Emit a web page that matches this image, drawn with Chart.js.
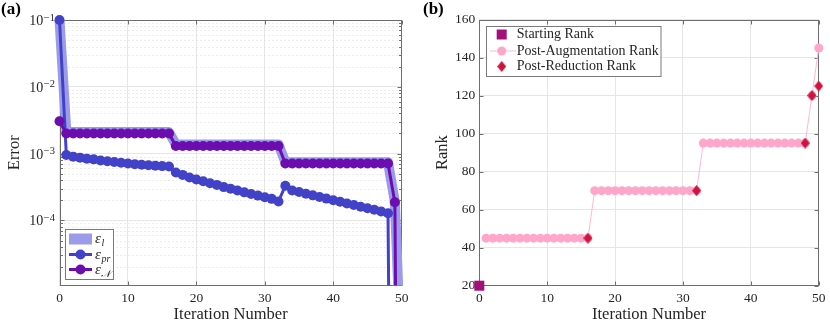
<!DOCTYPE html>
<html>
<head>
<meta charset="utf-8">
<script src="https://cdn.jsdelivr.net/npm/chart.js@4.4.1/dist/chart.umd.min.js"></script>
<style>
  body { margin: 0; background: #fff; width: 830px; height: 322px; overflow: hidden; position: relative; }
  .panel { position: absolute; top: 0; width: 415px; height: 322px; }
  .tag { position: absolute; top: -1px; font: bold 17px "Liberation Serif", serif; color: #000; }
</style>
</head>
<body>
<div class="panel" style="left:0"><canvas id="errChart" width="415" height="322"></canvas></div>
<div class="panel" style="left:415px"><canvas id="rankChart" width="415" height="322"></canvas></div>
<div class="tag" style="left:1px">(a)</div>
<div class="tag" style="left:423px">(b)</div>
<script>
// ---- data (a) ----
const iterations = [0,1,2,3,4,5,6,7,8,9,10,11,12,13,14,15,16,17,18,19,20,21,22,23,24,25,
  26,27,28,29,30,31,32,33,34,35,36,37,38,39,40,41,42,43,44,45,46,47,48,49,50];

const errL = [1e-1,
  2.1e-3,2.1e-3,2.1e-3,2.1e-3,2.1e-3,2.1e-3,2.1e-3,2.1e-3,2.1e-3,2.1e-3,2.1e-3,2.1e-3,2.1e-3,2.1e-3,2.1e-3,2.1e-3,
  1.37e-3,1.37e-3,1.37e-3,1.37e-3,1.37e-3,1.37e-3,1.37e-3,1.37e-3,1.37e-3,1.37e-3,1.37e-3,1.37e-3,1.37e-3,1.37e-3,1.37e-3,1.37e-3,
  7.4e-4,7.4e-4,7.4e-4,7.4e-4,7.4e-4,7.4e-4,7.4e-4,7.4e-4,7.4e-4,7.4e-4,7.4e-4,7.4e-4,7.4e-4,7.4e-4,7.4e-4,7.4e-4,
  1.9e-4, 4.5e-7];

const errPr = [1e-1,
  9.5e-4,9.0e-4,8.7e-4,8.4e-4,8.2e-4,7.9e-4,7.7e-4,7.5e-4,7.3e-4,7.1e-4,6.95e-4,6.8e-4,6.7e-4,6.6e-4,6.5e-4,6.4e-4,
  5.2e-4,4.8e-4,4.4e-4,4.1e-4,3.85e-4,3.6e-4,3.4e-4,3.15e-4,2.97e-4,2.8e-4,2.63e-4,2.49e-4,2.35e-4,2.22e-4,2.1e-4,1.92e-4,
  3.3e-4,2.8e-4,2.66e-4,2.5e-4,2.37e-4,2.24e-4,2.12e-4,2.0e-4,1.9e-4,1.79e-4,1.7e-4,1.6e-4,1.52e-4,1.44e-4,1.36e-4,1.28e-4,
  1e-16, 1e-16];

const errN = [3.05e-3,
  2.0e-3,2.0e-3,2.0e-3,2.0e-3,2.0e-3,2.0e-3,2.0e-3,2.0e-3,2.0e-3,2.0e-3,2.0e-3,2.0e-3,2.0e-3,2.0e-3,2.0e-3,2.0e-3,
  1.3e-3,1.3e-3,1.3e-3,1.3e-3,1.3e-3,1.3e-3,1.3e-3,1.3e-3,1.3e-3,1.3e-3,1.3e-3,1.3e-3,1.3e-3,1.3e-3,1.3e-3,1.3e-3,
  7.1e-4,7.1e-4,7.1e-4,7.1e-4,7.1e-4,7.1e-4,7.1e-4,7.1e-4,7.1e-4,7.1e-4,7.1e-4,7.1e-4,7.1e-4,7.1e-4,7.1e-4,7.1e-4,
  1.87e-4, 1e-16];

const decadeTicks = [1e-4, 1e-3, 1e-2, 1e-1];
const iterTicks = [0, 10, 20, 30, 40, 50];

// ---- data (b) ----
const startIter = [0];
const startRank = [20];
const augIter = [1,2,3,4,5,6,7,8,9,10,11,12,13,14,15,16,17,18,19,20,21,22,23,24,25,
  26,27,28,29,30,31,32,33,34,35,36,37,38,39,40,41,42,43,44,45,46,47,48,49,50];
const augRank = [45,45,45,45,45,45,45,45,45,45,45,45,45,45,45,45,
  70,70,70,70,70,70,70,70,70,70,70,70,70,70,70,70,
  95,95,95,95,95,95,95,95,95,95,95,95,95,95,95,95,
  120,145];
const redIter = [16, 32, 48, 49, 50];
const redRank = [45, 70, 95, 120, 125];
const rankTicks = [20, 40, 60, 80, 100, 120, 140, 160];

// ---- styles ----
const serif = '"Liberation Serif", "DejaVu Serif", serif';
const txt = '#262626';
const axisColor = '#6e6e6e';
const gridColor = '#e6e6e6';
const bandColor = '#9b9bea';
const blue = '#4242c9';
const purple = '#6c0db0';
const startColor = '#a3107c';
const augColor = '#ffa6ca';
const augLine = '#ffb8d4';
const redColor = '#d0143f';

const toXY = (xs, ys) => xs.map((x, i) => ({ x: x, y: ys[i] }));

// diamond marker (taller than wide)
const diamond = document.createElement('canvas');
diamond.width = 9; diamond.height = 11;
(function () {
  const c = diamond.getContext('2d');
  c.fillStyle = redColor;
  c.beginPath();
  c.moveTo(4.5, 0); c.lineTo(9, 5.5); c.lineTo(4.5, 11); c.lineTo(0, 5.5);
  c.closePath(); c.fill();
})();

// minor log grid values
const minorVals = [];
[-5, -4, -3, -2].forEach(e => {
  for (let k = 2; k <= 9; k++) minorVals.push(k * Math.pow(10, e));
});

function line(ctx, x1, y1, x2, y2) { ctx.moveTo(x1, y1); ctx.lineTo(x2, y2); }

// per-chart extras (kept out of chart options so they are not treated as scriptable)
const extras = {};

// box, inward ticks, dotted minor grid
const frame = {
  id: 'frame',
  beforeDatasetsDraw(chart) {
    const { ctx, chartArea: a, scales } = chart;
    const o = extras[chart.canvas.id] || {};
    const L = Math.round(a.left) + 0.5, R = Math.round(a.right) - 0.5;
    const T = Math.round(a.top) + 0.5, B = Math.round(a.bottom) - 0.5;
    const ys = scales.y;
    const minor = (o.minor || []).filter(v => v > ys.min && v < ys.max);
    ctx.save();
    ctx.lineWidth = 1;
    if (minor.length) {
      ctx.strokeStyle = '#d9d9d9';
      ctx.setLineDash([1, 3]);
      ctx.beginPath();
      minor.forEach(v => { const y = Math.round(ys.getPixelForValue(v)) + 0.5; line(ctx, L, y, R, y); });
      ctx.stroke();
      ctx.setLineDash([]);
    }
    ctx.strokeStyle = axisColor;
    ctx.beginPath();
    scales.x.ticks.forEach(t => {
      const x = Math.round(scales.x.getPixelForValue(t.value)) + 0.5;
      line(ctx, x, B, x, B - 4); line(ctx, x, T, x, T + 4);
    });
    ys.ticks.forEach(t => {
      const y = Math.round(ys.getPixelForValue(t.value)) + 0.5;
      line(ctx, L, y, L + 4, y); line(ctx, R, y, R - 4, y);
    });
    minor.forEach(v => {
      const y = Math.round(ys.getPixelForValue(v)) + 0.5;
      line(ctx, L, y, L + 2.5, y); line(ctx, R, y, R - 2.5, y);
    });
    ctx.stroke();
    ctx.strokeRect(L, T, R - L, B - T);
    ctx.restore();
  },
  afterDraw(chart) {
    const o = extras[chart.canvas.id] || {};
    if (o.powLabels) drawPowLabels(chart);
    if (o.legend) o.legend(chart);
  }
};

function drawPowLabels(chart) {
  const { ctx, chartArea: a, scales: { y } } = chart;
  ctx.save();
  ctx.fillStyle = txt;
  ctx.textAlign = 'right';
  ctx.textBaseline = 'alphabetic';
  y.ticks.forEach(t => {
    const py = y.getPixelForValue(t.value);
    const exp = Math.round(Math.log10(t.value));
    const sup = '\u2212' + Math.abs(exp);
    const right = a.left - 4.5;
    ctx.font = '10.5px ' + serif;
    const w = ctx.measureText(sup).width;
    ctx.fillText(sup, right, py + 0.5);
    ctx.font = '14px ' + serif;
    ctx.fillText('10', right - w - 0.5, py + 5);
  });
  ctx.restore();
}

function mathLabel(ctx, x, y, sub) {
  ctx.font = 'italic 15px ' + serif;
  ctx.fillText('\u03B5', x, y + 4);
  const w = ctx.measureText('\u03B5').width;
  ctx.font = 'italic 10px ' + serif;
  ctx.fillText(sub, x + w + 0.5, y + 7);
}

function legendA(chart) {
  const ctx = chart.ctx;
  const x0 = 65.5, y0 = 229.5, w = 48, h = 50;
  ctx.save();
  ctx.fillStyle = '#fff';
  ctx.fillRect(x0, y0, w, h);
  ctx.strokeStyle = '#7a7a7a';
  ctx.lineWidth = 1;
  ctx.strokeRect(x0, y0, w, h);
  const rows = [
    { y: 239, kind: 'band', color: bandColor, sub: 'l' },
    { y: 254.5, kind: 'line', color: blue, sub: 'pr' },
    { y: 269.5, kind: 'line', color: purple, sub: '\uD835\uDCA9' }
  ];
  rows.forEach(r => {
    if (r.kind === 'band') {
      ctx.fillStyle = r.color;
      ctx.fillRect(69, r.y - 5.5, 23, 11);
    } else {
      ctx.strokeStyle = r.color;
      ctx.lineWidth = 3;
      ctx.beginPath(); line(ctx, 69, r.y, 92, r.y); ctx.stroke();
      ctx.fillStyle = r.color;
      ctx.beginPath(); ctx.arc(80.5, r.y, 5, 0, Math.PI * 2); ctx.fill();
    }
    ctx.fillStyle = txt;
    ctx.textAlign = 'left';
    ctx.textBaseline = 'alphabetic';
    mathLabel(ctx, 95, r.y, r.sub);
  });
  ctx.restore();
}

function legendB(chart) {
  const ctx = chart.ctx;
  const x0 = 71.5, y0 = 26.5, w = 174.5, h = 50;
  ctx.save();
  ctx.fillStyle = '#fff';
  ctx.fillRect(x0, y0, w, h);
  ctx.strokeStyle = '#7a7a7a';
  ctx.lineWidth = 1;
  ctx.strokeRect(x0, y0, w, h);
  const cx = 86.7;
  // starting rank
  ctx.fillStyle = startColor;
  ctx.fillRect(cx - 5, 34.5 - 5, 10, 10);
  // post-augmentation
  ctx.strokeStyle = augLine;
  ctx.beginPath(); line(ctx, 75, 51, 101, 51); ctx.stroke();
  ctx.fillStyle = augColor;
  ctx.beginPath(); ctx.arc(cx, 51, 4.5, 0, Math.PI * 2); ctx.fill();
  // post-reduction
  ctx.drawImage(diamond, cx - 4.5, 66.5 - 5.5);
  ctx.fillStyle = txt;
  ctx.font = '14px ' + serif;
  ctx.textAlign = 'left';
  ctx.textBaseline = 'middle';
  ctx.fillText('Starting Rank', 101.7, 34.5);
  ctx.fillText('Post-Augmentation Rank', 101.7, 51);
  ctx.fillText('Post-Reduction Rank', 101.7, 66.5);
  ctx.restore();
}

extras.errChart = { minor: minorVals, powLabels: true, legend: legendA };
extras.rankChart = { legend: legendB };

const tickFont = { family: serif, size: 13.5 };
const titleFont = { family: serif, size: 16.5, lineHeight: 0.9 };
const clipA = { left: 6, top: 6, right: 6, bottom: 0 };

new Chart(document.getElementById('errChart'), {
  type: 'line',
  data: {
    datasets: [
      { label: 'eps_N', data: toXY(iterations, errN), borderColor: purple, backgroundColor: purple,
        borderWidth: 3, pointRadius: 5, pointBackgroundColor: purple, pointBorderWidth: 0,
        borderJoinStyle: 'round', order: 1, clip: clipA },
      { label: 'eps_pr', data: toXY(iterations, errPr), borderColor: blue, backgroundColor: blue,
        borderWidth: 3, pointRadius: 5, pointBackgroundColor: blue, pointBorderWidth: 0,
        borderJoinStyle: 'round', order: 2, clip: clipA },
      { label: 'eps_l', data: toXY(iterations, errL), borderColor: bandColor, backgroundColor: bandColor,
        borderWidth: 10, pointRadius: 0, borderJoinStyle: 'round', order: 3, clip: clipA }
    ]
  },
  options: {
    responsive: false, animation: false, events: [],
    layout: { padding: { left: 0, top: 20, right: 13.3, bottom: 0 } },
    plugins: { legend: { display: false }, tooltip: { enabled: false } },
    scales: {
      x: {
        type: 'linear', min: 0, max: 50,
        afterBuildTicks: s => { s.ticks = iterTicks.map(v => ({ value: v })); },
        ticks: { font: tickFont, color: txt, padding: 4.5, maxRotation: 0 },
        grid: { color: gridColor, drawTicks: false },
        border: { display: false },
        title: { display: true, text: 'Iteration Number', font: titleFont, color: txt, padding: { top: 0, bottom: 0 } },
        afterFit: s => { s.height = 36.5; }
      },
      y: {
        type: 'logarithmic', min: 1.06e-5, max: 0.1,
        afterBuildTicks: s => { s.ticks = decadeTicks.map(v => ({ value: v })); },
        ticks: { display: false },
        grid: { color: gridColor, drawTicks: false },
        border: { display: false },
        title: { display: true, text: 'Error', font: titleFont, color: txt, padding: { top: 7, bottom: 0 } },
        afterFit: s => { s.width = 59.5; }
      }
    }
  },
  plugins: [frame]
});

new Chart(document.getElementById('rankChart'), {
  type: 'line',
  data: {
    datasets: [
      { label: 'Starting Rank', data: toXY(startIter, startRank), showLine: false,
        pointStyle: 'rect', pointRadius: 7.1, pointBackgroundColor: startColor, pointBorderWidth: 0,
        borderColor: startColor, order: 1, clip: false },
      { label: 'Post-Reduction Rank', data: toXY(redIter, redRank), showLine: false,
        pointStyle: diamond, pointRadius: 5, borderColor: redColor, pointBorderWidth: 0, order: 2, clip: false },
      { label: 'Post-Augmentation Rank', data: toXY(augIter, augRank), borderColor: augLine, borderWidth: 1,
        pointRadius: 4.5, pointBackgroundColor: augColor, pointBorderWidth: 0, order: 3, clip: false }
    ]
  },
  options: {
    responsive: false, animation: false, events: [],
    layout: { padding: { left: 0, top: 19.5, right: 7.3, bottom: 0 } },
    plugins: { legend: { display: false }, tooltip: { enabled: false } },
    scales: {
      x: {
        type: 'linear', min: 0, max: 50,
        afterBuildTicks: s => { s.ticks = iterTicks.map(v => ({ value: v })); },
        ticks: { font: tickFont, color: txt, padding: 4.5, maxRotation: 0 },
        grid: { color: gridColor, drawTicks: false },
        border: { display: false },
        title: { display: true, text: 'Iteration Number', font: titleFont, color: txt, padding: { top: 0, bottom: 0 } },
        afterFit: s => { s.height = 36.3; }
      },
      y: {
        type: 'linear', min: 20, max: 160,
        afterBuildTicks: s => { s.ticks = rankTicks.map(v => ({ value: v })); },
        ticks: { font: tickFont, color: txt, padding: 4 },
        grid: { color: gridColor, drawTicks: false },
        border: { display: false },
        title: { display: true, text: 'Rank', font: titleFont, color: txt, padding: { top: 20.3, bottom: 0 } },
        afterFit: s => { s.width = 64.3; }
      }
    }
  },
  plugins: [frame]
});
</script>
</body>
</html>
